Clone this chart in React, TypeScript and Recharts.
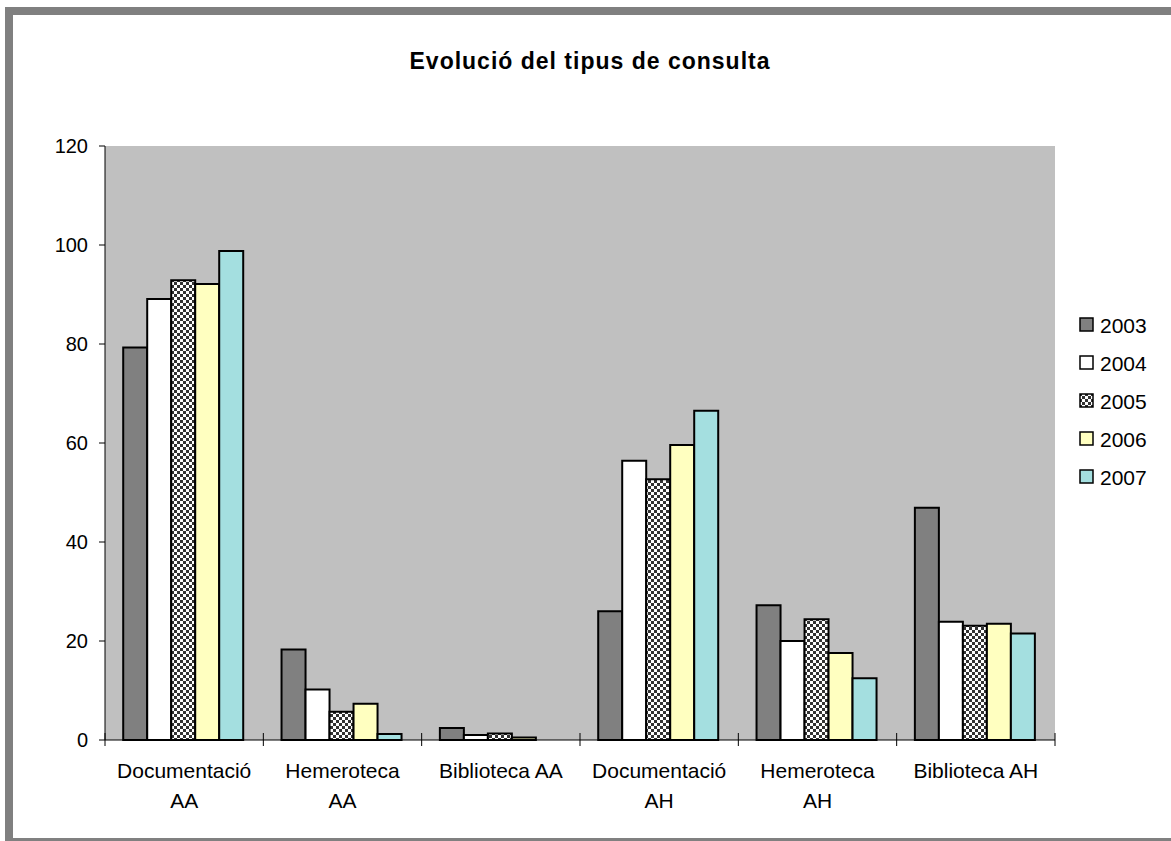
import React from 'react';
import { BarChart, Bar, XAxis, YAxis, CartesianGrid, Legend } from 'recharts';

const categories = ['Documentació AA', 'Hemeroteca AA', 'Biblioteca AA', 'Documentació AH', 'Hemeroteca AH', 'Biblioteca AH'];
const tickLabelLines = [
  ['Documentació', 'AA'],
  ['Hemeroteca', 'AA'],
  ['Biblioteca AA'],
  ['Documentació', 'AH'],
  ['Hemeroteca', 'AH'],
  ['Biblioteca AH'],
];
const years = ['2003', '2004', '2005', '2006', '2007'];
const v2003 = [79.3, 18.3, 2.4, 26.0, 27.2, 46.9];
const v2004 = [89.1, 10.2, 1.0, 56.4, 20.0, 23.9];
const v2005 = [92.9, 5.7, 1.3, 52.7, 24.4, 23.1];
const v2006 = [92.1, 7.3, 0.5, 59.6, 17.6, 23.5];
const v2007 = [98.8, 1.2, 0, 66.5, 12.5, 21.5];
const yTicks = [0, 20, 40, 60, 80, 100, 120];
const title = 'Evolució del tipus de consulta';

const seriesValues = [v2003, v2004, v2005, v2006, v2007];
const fills = ['#808080', '#FFFFFF', 'url(#checker)', '#FFFFC0', '#A4DFE0'];

const data = categories.map((c, i) => {
  const row: any = { name: c };
  years.forEach((y, k) => {
    row[y] = seriesValues[k][i];
  });
  return row;
});

const FONT = '"Liberation Sans", Arial, Helvetica, sans-serif';

const CatTick = (props: any) => {
  const { x, y, payload } = props;
  const lines = tickLabelLines[payload.index] || [String(payload.value)];
  const off = payload.offset || 0;
  const isLast = payload.index === categories.length - 1;
  return (
    <g>
      {off ? <line x1={x - off} x2={x - off} y1={y - 7} y2={y + 6} stroke="#000" strokeWidth={1} /> : null}
      {off && isLast ? <line x1={x + off} x2={x + off} y1={y - 7} y2={y + 6} stroke="#000" strokeWidth={1} /> : null}
      {lines.map((l, i) => (
        <text key={i} x={x} y={y + 38 + i * 30} textAnchor="middle" fontSize={21} fontFamily={FONT} fill="#000">
          {l}
        </text>
      ))}
    </g>
  );
};

const renderLegend = () => (
  <div style={{ fontFamily: FONT, fontSize: 21, color: '#000' }}>
    {years.map((y, k) => (
      <div key={y} style={{ height: 38, display: 'flex', alignItems: 'center' }}>
        <svg width={16} height={16} style={{ marginRight: 5 }}>
          <rect x={1} y={1} width={13} height={13} fill={fills[k]} stroke="#000" strokeWidth={1.5} />
        </svg>
        <span style={{ lineHeight: '21px' }}>{y}</span>
      </div>
    ))}
  </div>
);

export default function App() {
  return (
    <div style={{ position: 'absolute', left: 0, top: 0, width: 1171, height: 841, overflow: 'hidden', background: '#fff' }}>
      <svg width={1} height={1} style={{ position: 'absolute', left: 0, top: 0 }}>
        <defs>
          <pattern id="checker" width={6} height={6} patternUnits="userSpaceOnUse">
            <rect width={6} height={6} fill="#fff" />
            <rect width={3} height={3} fill="#333" />
            <rect x={3} y={3} width={3} height={3} fill="#333" />
          </pattern>
        </defs>
      </svg>
      <div
        style={{
          position: 'absolute',
          left: 5,
          top: 7,
          width: 1190,
          height: 839,
          border: '8px solid #808080',
          boxSizing: 'border-box',
        }}
      />
      <div style={{ position: 'absolute', left: 0, top: 0 }}>
        <BarChart
          width={1171}
          height={841}
          data={data}
          margin={{ top: 146, right: 116, bottom: 41, left: 25 }}
          barCategoryGap="11.5%"
          barGap={0}
        >
          <CartesianGrid fill="#C0C0C0" stroke="none" horizontal={false} vertical={false} />
          <XAxis
            dataKey="name"
            height={60}
            interval={0}
            tickLine={false}
            tickSize={0}
            tickMargin={0}
            axisLine={{ stroke: '#000', strokeWidth: 1 }}
            tick={<CatTick />}
          />
          <YAxis
            width={80}
            domain={[0, 120]}
            ticks={yTicks}
            interval={0}
            tickSize={6}
            tickMargin={11}
            axisLine={{ stroke: '#000', strokeWidth: 1 }}
            tickLine={{ stroke: '#000', strokeWidth: 1 }}
            tick={{ fontSize: 20, fontFamily: FONT, fill: '#000' }}
          />
          <Legend
            layout="vertical"
            align="center"
            verticalAlign="middle"
            content={renderLegend}
            wrapperStyle={{ left: 1079, top: 306, width: 90 }}
          />
          {years.map((y, k) => (
            <Bar key={y} dataKey={y} fill={fills[k]} stroke="#000" strokeWidth={2} isAnimationActive={false} />
          ))}
        </BarChart>
      </div>
      <svg width={1171} height={841} style={{ position: 'absolute', left: 0, top: 0, pointerEvents: 'none' }}>
        <text x={590} y={69} textAnchor="middle" fontSize={23} fontWeight="bold" fontFamily={FONT} letterSpacing={1} fill="#000">
          {title}
        </text>
      </svg>
    </div>
  );
}
